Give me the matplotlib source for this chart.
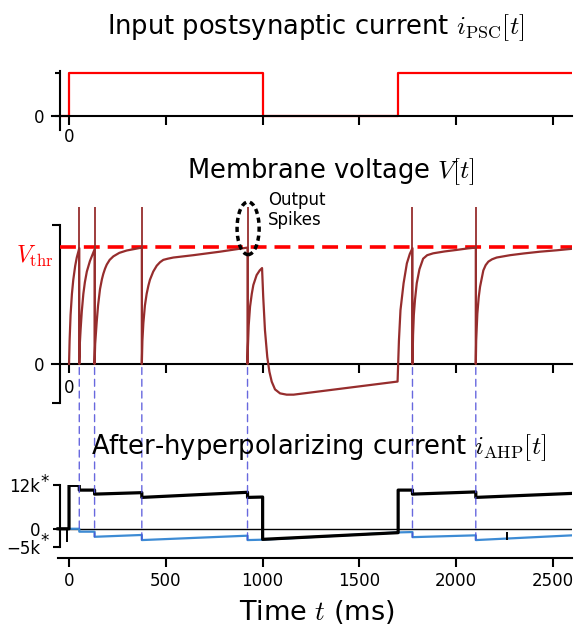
import matplotlib
matplotlib.use("Agg")
import matplotlib.pyplot as plt
from matplotlib.patches import Ellipse, ConnectionPatch

plt.rcParams["font.family"] = ["DejaVu Sans"]
plt.rcParams["mathtext.fontset"] = "cm"

# ---------------- data ----------------
x_ticks = [0, 500, 1000, 1500, 2000, 2500]
x_labels_full = ["0", "500", "1000", "1500", "2000", "2500"]
x_labels_short = ["0", "", "", "", "", ""]

# input postsynaptic current (step)
psc_t = [-46, 0, 0, 1000, 1000, 1700, 1700, 2600]
psc_v = [0, 0, 1, 1, 0, 0, 1, 1]

# output spike times (ms)
spike_times = [53, 132, 376, 922, 1774, 2101]
spike_top = 1.34
v_thr = 1.0

# membrane voltage trace (ms, units of V_thr)
v_t = [0, 3, 8, 15, 22, 32, 40, 53,
       53, 56, 60, 66, 74, 82, 92, 108, 120, 132,
       132, 135, 143, 150, 160, 170, 177, 186, 195, 210, 229, 260, 298, 376,
       376, 379, 384, 392, 401, 410, 418, 435, 453, 470, 487, 510, 539, 642,
       780, 922,
       922, 924, 928, 935, 944, 952, 969, 985, 997, 1003, 1012, 1024, 1035,
       1047, 1064, 1090, 1124, 1160, 1697, 1700, 1704, 1712, 1728, 1745,
       1760, 1774,
       1774, 1777, 1781, 1787, 1796, 1810, 1829, 1850, 1881, 1940, 2002,
       2060, 2101,
       2101, 2103, 2109, 2116, 2123, 2140, 2152, 2166, 2185, 2209, 2278,
       2350, 2433, 2520, 2600]
v_v = [0, 0.20, 0.42, 0.60, 0.72, 0.84, 0.91, 0.99,
       0, 0.18, 0.30, 0.45, 0.60, 0.70, 0.79, 0.88, 0.93, 0.98,
       0, 0.17, 0.36, 0.50, 0.64, 0.725, 0.77, 0.815, 0.85, 0.89, 0.92,
       0.95, 0.97, 0.995,
       0, 0.20, 0.35, 0.50, 0.60, 0.67, 0.72, 0.79, 0.84, 0.87, 0.89, 0.90,
       0.91, 0.93, 0.96, 0.995,
       0, 0.15, 0.33, 0.49, 0.60, 0.675, 0.76, 0.80, 0.82, 0.575, 0.29, 0.06,
       -0.066, -0.151, -0.217, -0.251, -0.262, -0.262, -0.15, 0.0, 0.20, 0.46,
       0.69, 0.86, 0.94, 0.99,
       0, 0.25, 0.42, 0.55, 0.69, 0.81, 0.90, 0.93, 0.946, 0.962, 0.975,
       0.988, 0.995,
       0, 0.20, 0.43, 0.57, 0.66, 0.80, 0.845, 0.875, 0.895, 0.91, 0.93,
       0.945, 0.96, 0.972, 0.985]

# after-hyperpolarizing current (blue)
ahp_t = [0, 53, 53, 132, 132, 376, 376, 922, 922, 1000, 1700, 1774, 1774,
         2101, 2101, 2600]
ahp_v = [0, 0, -800, -800, -2200, -1700, -3100, -1900, -3100, -3000, -1000,
         -900, -2300, -1800, -3100, -1800]

# total current (black)
tot_t = [-57, 0, 0, 53, 53, 132, 132, 376, 376, 922, 922, 1000, 1000, 1700,
         1700, 1774, 1774, 2101, 2101, 2600]
tot_v = [0, 0, 11900, 11900, 10600, 10600, 9500, 9900, 8600, 10000, 8600,
         8700, -2900, -1070, 10600, 10600, 9500, 10100, 8600, 9700]

# AHP value right after each spike (end of the connector lines)
ahp_after_spike = [-800, -2200, -3100, -3100, -2300, -3100]

# small black marks in the bottom panel
mark_t = [-10, 2262]
mark_lo = [-3600, -3100]
mark_hi = [0, -1000]

ahp_ticks = [-5000, 0, 12000]
ahp_ticklabels = ["\u22125k", "0", "12k"]

# ---------------- styling ----------------
C_RED = "#ff0000"
C_V = "#962d2d"
C_BLUE = "#3d8bd4"
C_CONN = "#4d4dd9"
FS_TICK = 12
FS_TITLE = 18.5

W, H = 582, 629
fig = plt.figure(figsize=(W / 100, H / 100), dpi=100)

left = 51.6 / W
width = 520.8 / W
ax1 = fig.add_axes([left, 1 - 130 / H, width, 59 / H])
ax2 = fig.add_axes([left, 1 - 403 / H, width, 178 / H])
ax3 = fig.add_axes([left, 1 - 547 / H, width, 62 / H])

XL = (-90, 2600)
SPINE_X = -46

for ax in (ax1, ax2, ax3):
    ax.set_xlim(*XL)
    for s in ("top", "right"):
        ax.spines[s].set_visible(False)
    ax.spines["left"].set_position(("data", SPINE_X))
    for s in ("left", "bottom"):
        ax.spines[s].set_linewidth(1.5)
    ax.set_xticks(x_ticks)
    ax.tick_params(axis="x", length=6.5, width=1.5, labelsize=FS_TICK,
                   direction="out")
    ax.tick_params(axis="y", labelsize=FS_TICK)

# ---- top panel ----
ax1.set_ylim(-0.3256, 1.0465)
ax1.spines["bottom"].set_position(("data", 0))
ax1.plot(psc_t, psc_v, color=C_RED, lw=1.6, zorder=2)
ax1.set_xticklabels(x_labels_short)
ax1.set_yticks([0, 1])
ax1.set_yticklabels(["0", ""])
ax1.tick_params(axis="y", length=3.5, width=1.5, pad=8)
ax1.tick_params(axis="x", pad=2.5)

# ---- middle panel ----
ax2.set_ylim(-0.3333, 1.188)
ax2.spines["bottom"].set_position(("data", 0))
ax2.set_xticklabels(x_labels_short)
ax2.tick_params(axis="x", pad=4)
ax2.set_yticks([0])
ax2.set_yticklabels(["0"])
ax2.tick_params(axis="y", which="major", length=0, pad=11.5)
ax2.set_yticks([-0.3333, 1.188], minor=True)
ax2.tick_params(axis="y", which="minor", length=5.5, width=1.5)
ax2.plot([SPINE_X, XL[1]], [v_thr, v_thr], color=C_RED, lw=2.6,
         dashes=(4.4, 2.2), zorder=3)
ax2.plot(v_t, v_v, color=C_V, lw=1.6, zorder=4)
ax2.vlines(spike_times, 0, spike_top, color=C_V, lw=1.3, zorder=4,
           clip_on=False)
ax2.text(-83, 0.92 * v_thr, r"$V_{\mathrm{thr}}$", color=C_RED, fontsize=17,
         ha="right", va="center", clip_on=False)
ax2.add_patch(Ellipse((925, 1.16), 114, 0.45, fill=False, ec="black",
                      lw=2.5, ls=(0, (1.5, 1.1)), clip_on=False, zorder=5))
ax2.text(1028, 1.475, "Output\nSpikes", fontsize=12, ha="left", va="top",
         linespacing=1.1, clip_on=False)

# ---- bottom panel ----
ax3.set_ylim(-5000, 12000)
ax3.spines["bottom"].set_position(("outward", 8))
ax3.spines["bottom"].set_bounds(-57, XL[1])
ax3.set_xticklabels(x_labels_full)
ax3.set_yticks(ahp_ticks)
ax3.set_yticklabels(ahp_ticklabels)
ax3.tick_params(axis="y", length=5, width=1.5, pad=9.5)
ax3.plot([-57, XL[1]], [0, 0], color="black", lw=1.0, zorder=2)
ax3.plot(ahp_t, ahp_v, color=C_BLUE, lw=1.6, zorder=3)
ax3.plot(tot_t, tot_v, color="black", lw=2.3, zorder=4)
ax3.vlines(mark_t, mark_lo, mark_hi, color="black", lw=1.4, zorder=4)
for yv in (12000, -5000):
    ax3.annotate("*", xy=(0, yv), xycoords=("axes fraction", "data"),
                 xytext=(-4.8, -1.5 if yv > 0 else 1.0),
                 textcoords="offset points", ha="center", va="baseline",
                 fontsize=FS_TICK, annotation_clip=False)

# connectors from spikes to AHP
for ts, av in zip(spike_times, ahp_after_spike):
    con = ConnectionPatch(xyA=(ts, -0.03), coordsA=ax2.transData,
                          xyB=(ts, av), coordsB=ax3.transData,
                          color=C_CONN, lw=1.0, ls=(0, (5, 3.5)),
                          alpha=0.85, zorder=1)
    fig.add_artist(con)

# titles and x label
fig.text(316 / W, 1 - 28 / H, r"Input postsynaptic current $i_{\mathrm{PSC}}[t]$",
         fontsize=FS_TITLE, ha="center", va="center")
fig.text(331 / W, 1 - 172 / H, r"Membrane voltage $V[t]$",
         fontsize=FS_TITLE, ha="center", va="center")
fig.text(319 / W, 1 - 448 / H,
         r"After-hyperpolarizing current $i_{\mathrm{AHP}}[t]$",
         fontsize=FS_TITLE, ha="center", va="center")
fig.text(317 / W, 1 - 612 / H, r"Time $t$ (ms)", fontsize=19.5,
         ha="center", va="center")

fig.savefig("out.png", dpi=100)
